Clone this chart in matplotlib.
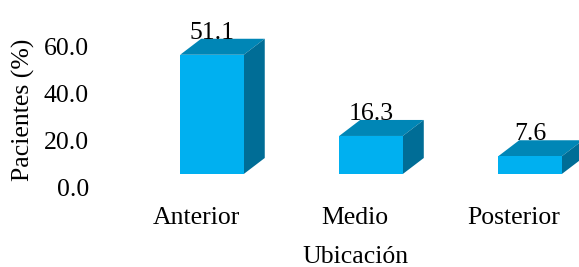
import matplotlib.pyplot as plt
import matplotlib.transforms as mtransforms
from matplotlib.patches import Polygon

categorias = ["Anterior", "Medio", "Posterior"]
pacientes = [51.1, 16.3, 7.6]
yticks = [0, 20, 40, 60]

plt.rcParams['font.family'] = ['Liberation Serif', 'DejaVu Serif']
plt.rcParams['font.size'] = 18.5

frente = '#00B0F0'
techo = '#0086B6'
lado = '#006D96'

fig = plt.figure(figsize=(5.79, 2.67), dpi=100)
ax = fig.add_axes([100 / 579, 93 / 267, 479 / 579, 174 / 267])

x = list(range(len(categorias)))
ancho = 0.40
dx = 0.132   # profundidad en x (unidades de datos)
dy = 6.86    # profundidad en y

ax.bar(x, pacientes, width=ancho, color=frente, zorder=3)
for xi, v in zip(x, pacientes):
    x0, x1 = xi - ancho / 2, xi + ancho / 2
    # cara superior
    ax.add_patch(Polygon([(x0, v), (x1, v), (x1 + dx, v + dy), (x0 + dx, v + dy)],
                         closed=True, facecolor=techo, edgecolor='none', zorder=2, clip_on=False))
    # cara lateral
    ax.add_patch(Polygon([(x1, 0), (x1 + dx, dy), (x1 + dx, v + dy), (x1, v)],
                         closed=True, facecolor=lado, edgecolor='none', zorder=2, clip_on=False))
    ax.text(xi, v + dy, f"{v:.1f}", ha='center', va='baseline', zorder=4)

ax.set_xlim(-0.704, 2.308)
ax.set_ylim(0, 74.57)

ax.set_yticks(yticks, [f"{t:.1f}" for t in yticks])
ax.set_xticks(x, categorias)
ax.tick_params(length=0)
ax.tick_params(axis='y', pad=8)
ax.tick_params(axis='x', pad=24)

off_y = mtransforms.ScaledTranslation(0, -13 / 100, fig.dpi_scale_trans)
for lbl in ax.get_yticklabels():
    lbl.set_transform(lbl.get_transform() + off_y)
off_x = mtransforms.ScaledTranslation(-16 / 100, 0, fig.dpi_scale_trans)
for lbl in ax.get_xticklabels():
    lbl.set_transform(lbl.get_transform() + off_x)

for s in ax.spines.values():
    s.set_visible(False)

fig.text(23 / 579, 1 - 110 / 267, "Pacientes (%)", rotation=90, ha='center', va='center')
fig.text(355 / 579, 1 - 257 / 267, "Ubicación", ha='center', va='center')

fig.savefig('out.png', dpi=100)
